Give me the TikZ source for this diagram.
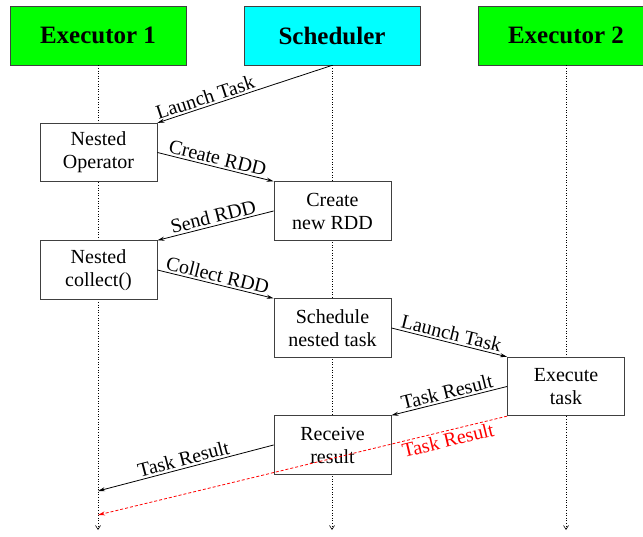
\documentclass[tikz,border=0pt]{standalone}
\usepackage{fontspec}
\setmainfont{Liberation Serif}
\usetikzlibrary{arrows.meta}
\begin{document}
\begin{tikzpicture}[x=1pt,y=-1pt,
  head/.style={draw=black!75, line width=0.8pt, minimum width=176pt, minimum height=59pt,
    inner sep=0pt, font=\fontsize{25}{30}\selectfont\bfseries},
  box/.style={draw=black!75, line width=0.8pt, fill=white, minimum width=117pt, minimum height=58.5pt,
    align=center, inner sep=0pt, font=\fontsize{20}{23}\selectfont},
  life/.style={dotted, line width=0.6pt, -{Straight Barb[length=4pt,width=5pt]}},
  msg/.style={line width=0.8pt, -{Stealth[length=7pt,width=4pt]}},
  reply/.style={msg, red, dash pattern=on 3pt off 2pt},
  lbl/.style={sloped, above, inner sep=2pt, font=\fontsize{20}{23}\selectfont},
  lblb/.style={sloped, below, inner sep=2pt, font=\fontsize{20}{23}\selectfont}
]
\path[use as bounding box] (0,0) rectangle (643,537);
\clip (0,0) rectangle (643,537);

% participants
\node[head, fill={rgb,255:red,0;green,255;blue,0}] (ex1) at (98,35.5) {Executor 1};
\node[head, fill={rgb,255:red,0;green,255;blue,255}] (sch) at (332,35.5) {Scheduler};
\node[head, fill={rgb,255:red,0;green,255;blue,0}] (ex2) at (566,35.5) {Executor 2};

% lifelines
\coordinate (ex1end) at (98,530);
\coordinate (schend) at (332,530);
\coordinate (ex2end) at (566,530);
\draw[life] (ex1.south) -- (ex1end);
\draw[life] (sch.south) -- (schend);
\draw[life] (ex2.south) -- (ex2end);

% activity boxes
\node[box] (op)   at (98.5,152.5) {Nested\\Operator};
\node[box] (crt)  at (332.5,211)  {Create\\new RDD};
\node[box] (col)  at (98.5,270)   {Nested\\collect()};
\node[box] (sn)   at (332.5,328)  {Schedule\\nested task};
\node[box] (exe)  at (566,386.5)  {Execute\\task};
\node[box] (rcv)  at (332.5,445)  {Receive\\result};

% messages
\draw[msg] (sch.south) -- node[lbl, pos=0.71] {Launch Task} (op.north east);
\draw[msg] (op.east) -- node[lbl] {Create RDD} (crt.north west);
\draw[msg] (crt.west) -- node[lbl] {Send RDD} (col.north east);
\draw[msg] (col.east) -- node[lbl] {Collect RDD} (sn.north west);
\draw[msg] (sn.east) -- node[lbl] {Launch Task} (exe.north west);
\draw[msg] (exe.west) -- node[lbl] {Task Result} (rcv.north east);
\coordinate (res1) at (98,491);
\draw[msg] (rcv.west) -- node[lbl] {Task Result} (res1);
\coordinate (res2) at (98,515);
\draw[reply] (exe.south west) -- node[lblb, pos=0.15] {Task Result} (res2);
\end{tikzpicture}
\end{document}
